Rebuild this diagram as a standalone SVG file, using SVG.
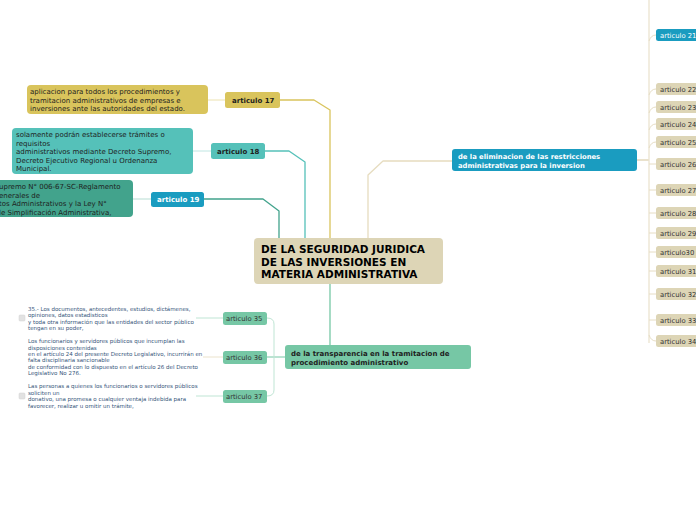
<svg xmlns="http://www.w3.org/2000/svg" width="696" height="520" viewBox="0 0 696 520">
<style>
text{font-family:"DejaVu Sans","Verdana",sans-serif;}
.b{font-weight:bold;}
.t7{font-size:7px;fill:#1e1e1e;}
.lab{font-size:7px;font-weight:bold;fill:#1e1e1e;}
.ra{font-size:6.8px;fill:#333;}
.sm{font-size:5.5px;fill:#35557a;}
.c{fill:none;stroke-linejoin:round;}
</style>
<rect width="696" height="520" fill="#ffffff"/>
<g id="connectors">
  <path class="c" d="M280,100 H314 L330,110 V238" stroke="#d9c45c" stroke-width="1.3"/>
  <path class="c" d="M265,151 H289 L305,162 V238" stroke="#55c1b9" stroke-width="1.3"/>
  <path class="c" d="M204,199 H263 L279,211 V238" stroke="#42a38c" stroke-width="1.3"/>
  <path class="c" d="M207,100 H225" stroke="#ece2b0" stroke-width="1"/>
  <path class="c" d="M193,151 H211" stroke="#bfe6e2" stroke-width="1"/>
  <path class="c" d="M133,199 H151" stroke="#b7ddd3" stroke-width="1"/>
  <path class="c" d="M368,238 V175 L383,161 H452" stroke="#e6dcbf" stroke-width="1.3"/>
  <path class="c" d="M330,284 V345" stroke="#76c7a5" stroke-width="1.3"/>
  <path class="c" d="M285,357 H267" stroke="#76c7a5" stroke-width="1"/>
  <path class="c" d="M267,318 Q274,318 274,324 V390 Q274,396 267,396" stroke="#bfe5d4" stroke-width="1"/>
  <path class="c" d="M196,318 H223" stroke="#bfe5d4" stroke-width="1"/>
  <path class="c" d="M203,357 H223" stroke="#ebe3cc" stroke-width="1"/>
  <path class="c" d="M196,396 H223" stroke="#bfe5d4" stroke-width="1"/>
  <path class="c" d="M637,160 H649" stroke="#e3d9bc" stroke-width="1.5"/>
  <path class="c" d="M649,0 V343" stroke="#ebe4d0" stroke-width="1.3"/>
  <g stroke="#e6ddc4" stroke-width="1" fill="none">
    <path d="M649,41 Q651,35 656,35"/>
    <path d="M649,95 Q651,89 656,89"/>
    <path d="M649,113 Q651,107 656,107"/>
    <path d="M649,130 Q651,124 656,124"/>
    <path d="M649,148 Q651,142 656,142"/>
    <path d="M649,164 H656"/>
    <path d="M649,190 H656"/>
    <path d="M649,213 H656"/>
    <path d="M649,233 H656"/>
    <path d="M649,252 H656"/>
    <path d="M649,271 H656"/>
    <path d="M649,294 H656"/>
    <path d="M649,320 H656"/>
    <path d="M649,335 Q651,341 656,341"/>
  </g>
</g>
<g id="root">
  <rect x="254" y="238" width="189" height="46" rx="4" fill="#ddd5b6"/>
  <text class="b" font-size="10.5" fill="#000"><tspan x="261" y="253">DE LA SEGURIDAD JURIDICA</tspan><tspan x="261" y="265.5">DE LAS INVERSIONES EN</tspan><tspan x="261" y="278">MATERIA ADMINISTRATIVA</tspan></text>
</g>
<g id="art17">
  <rect x="225" y="92" width="55" height="16" rx="2.5" fill="#d9c45c"/>
  <text class="lab" x="232" y="102.5">articulo 17</text>
</g>
<g id="txt17">
  <rect x="27" y="85" width="181" height="29" rx="4" fill="#d9c45c"/>
  <text class="t7"><tspan x="30" y="94">aplicacion  para todos los procedimientos y</tspan><tspan x="30" y="102.5">tramitacion administrativos de empresas e</tspan><tspan x="30" y="111">inversiones ante las autoridades del estado.</tspan></text>
</g>
<g id="art18">
  <rect x="211" y="143" width="54" height="16" rx="2.5" fill="#55c1b9"/>
  <text class="lab" x="217" y="153.5">articulo 18</text>
</g>
<g id="txt18">
  <rect x="12" y="128" width="181" height="46" rx="4" fill="#55c1b9"/>
  <text class="t7"><tspan x="16" y="137">solamente podrán establecerse trámites o</tspan><tspan x="16" y="145.5">requisitos</tspan><tspan x="16" y="154">administrativos mediante Decreto Supremo,</tspan><tspan x="16" y="162.5">Decreto Ejecutivo Regional u Ordenanza</tspan><tspan x="16" y="171">Municipal.</tspan></text>
</g>
<g id="art19">
  <rect x="151" y="192" width="53" height="15" rx="2.5" fill="#1a9cc0"/>
  <text class="lab" x="157" y="202" style="fill:#fff">articulo 19</text>
</g>
<g id="txt19">
  <rect x="-6" y="180" width="139" height="37" rx="4" fill="#42a38c"/>
  <text class="t7"><tspan x="-1" y="189">upremo N° 006-67-SC-Reglamento</tspan><tspan x="-1" y="197.5">enerales de</tspan><tspan x="-1" y="206">tos Administrativos y la Ley N°</tspan><tspan x="-1" y="214.5">le Simplificación Administrativa,</tspan></text>
</g>
<g id="transparencia">
  <rect x="285" y="345" width="186" height="24" rx="3" fill="#76c7a5"/>
  <text class="lab"><tspan x="291" y="356">de la transparencia en la tramitacion de</tspan><tspan x="291" y="364.5">procedimiento administrativo</tspan></text>
</g>
<g id="art35">
  <rect x="223" y="312" width="44" height="13" rx="2.5" fill="#76c7a5"/>
  <text class="ra" x="226" y="321">articulo 35</text>
</g>
<g id="art36">
  <rect x="223" y="351" width="44" height="13" rx="2.5" fill="#76c7a5"/>
  <text class="ra" x="226" y="360">articulo 36</text>
</g>
<g id="art37">
  <rect x="223" y="390" width="44" height="13" rx="2.5" fill="#76c7a5"/>
  <text class="ra" x="226" y="399">articulo 37</text>
</g>
<g id="txt35">
  <rect x="19" y="315" width="6" height="6" rx="1" fill="#e2e2e2" stroke="#d0d0d0" stroke-width="0.5"/>
  <text class="sm"><tspan x="28" y="311">35.- Los documentos, antecedentes, estudios, dictámenes,</tspan><tspan x="28" y="317">opiniones, datos estadisticos</tspan><tspan x="28" y="323.5">y toda otra información que las entidades del sector público</tspan><tspan x="28" y="330">tengan en su poder,</tspan></text>
</g>
<g id="txt36">
  <text class="sm"><tspan x="28" y="343">Los funcionarios y servidores públicos que incumplan las</tspan><tspan x="28" y="349.5">disposiciones contenidas</tspan><tspan x="28" y="356">en el artículo 24 del presente Decreto Legislativo, incurrirán en</tspan><tspan x="28" y="362">falta disciplinaria sancionable</tspan><tspan x="28" y="368.5">de conformidad con lo dispuesto en el artículo 26 del Decreto</tspan><tspan x="28" y="375">Legislativo No 276.</tspan></text>
</g>
<g id="txt37">
  <rect x="19" y="393" width="6" height="6" rx="1" fill="#e2e2e2" stroke="#d0d0d0" stroke-width="0.5"/>
  <text class="sm"><tspan x="28" y="388">Las personas a quienes los funcionarios o servidores públicos</tspan><tspan x="28" y="394.5">soliciten un</tspan><tspan x="28" y="401">donativo, una promesa o cualquier ventaja indebida para</tspan><tspan x="28" y="407.5">favorecer, realizar u omitir un trámite,</tspan></text>
</g>
<g id="eliminacion">
  <rect x="452" y="149" width="185" height="22" rx="3" fill="#1a9cc0"/>
  <text class="b" font-size="6.8" fill="#ffffff"><tspan x="458" y="159">de la eliminacion de las restricciones</tspan><tspan x="458" y="167.5">administrativas para la inversion</tspan></text>
</g>
<g id="art21"><rect x="656" y="29" width="50" height="12" rx="2.5" fill="#1a9cc0"/><text class="ra" x="660" y="37.5" style="fill:#fff">articulo 21</text></g>
<g id="art22"><rect x="656" y="83" width="50" height="12" rx="2.5" fill="#ddd5b6"/><text class="ra" x="660" y="91.5">articulo 22</text></g>
<g id="art23"><rect x="656" y="101" width="50" height="12" rx="2.5" fill="#ddd5b6"/><text class="ra" x="660" y="109.5">articulo 23</text></g>
<g id="art24"><rect x="656" y="118" width="50" height="12" rx="2.5" fill="#ddd5b6"/><text class="ra" x="660" y="126.5">articulo 24</text></g>
<g id="art25"><rect x="656" y="136" width="50" height="12" rx="2.5" fill="#ddd5b6"/><text class="ra" x="660" y="144.5">articulo 25</text></g>
<g id="art26"><rect x="656" y="158" width="50" height="12" rx="2.5" fill="#ddd5b6"/><text class="ra" x="660" y="166.5">articulo 26</text></g>
<g id="art27"><rect x="656" y="184" width="50" height="12" rx="2.5" fill="#ddd5b6"/><text class="ra" x="660" y="192.5">articulo 27</text></g>
<g id="art28"><rect x="656" y="207" width="50" height="12" rx="2.5" fill="#ddd5b6"/><text class="ra" x="660" y="215.5">articulo 28</text></g>
<g id="art29"><rect x="656" y="227" width="50" height="12" rx="2.5" fill="#ddd5b6"/><text class="ra" x="660" y="235.5">articulo 29</text></g>
<g id="art30"><rect x="656" y="246" width="50" height="12" rx="2.5" fill="#ddd5b6"/><text class="ra" x="660" y="254.5">articulo30</text></g>
<g id="art31"><rect x="656" y="265" width="50" height="12" rx="2.5" fill="#ddd5b6"/><text class="ra" x="660" y="273.5">articulo 31</text></g>
<g id="art32"><rect x="656" y="288" width="50" height="12" rx="2.5" fill="#ddd5b6"/><text class="ra" x="660" y="296.5">articulo 32</text></g>
<g id="art33"><rect x="656" y="314" width="50" height="12" rx="2.5" fill="#ddd5b6"/><text class="ra" x="660" y="322.5">articulo 33</text></g>
<g id="art34"><rect x="656" y="335" width="50" height="12" rx="2.5" fill="#ddd5b6"/><text class="ra" x="660" y="343.5">articulo 34</text></g>
</svg>
